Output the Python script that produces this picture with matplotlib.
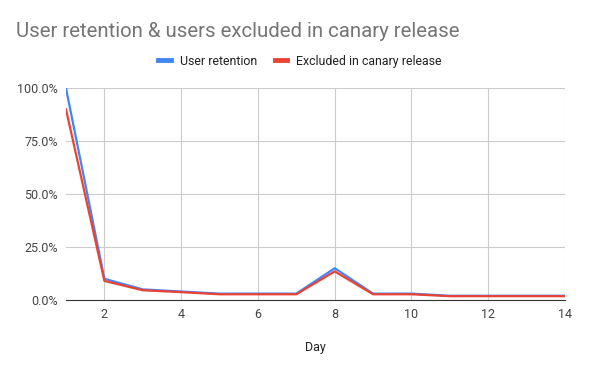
import matplotlib.pyplot as plt
from matplotlib.lines import Line2D
from matplotlib.ticker import PercentFormatter

plt.rcParams['font.family'] = ['Roboto', 'DejaVu Sans']

days = list(range(1, 15))
user_retention = [100, 10, 5, 4, 3, 3, 3, 15, 3, 3, 2, 2, 2, 2]
excluded_canary = [90, 9, 4.6, 3.7, 2.7, 2.7, 2.7, 13.5, 2.7, 2.7, 1.8, 1.8, 1.8, 1.8]
series_names = ['User retention', 'Excluded in canary release']
colors = ['#4285F4', '#EA4335']

fig = plt.figure(figsize=(6, 3.71), dpi=100)
ax = fig.add_axes([0.11, 0.1914, 0.8317, 0.5706])

ax.plot(days, user_retention, color=colors[0], lw=1.6)
ax.plot(days, excluded_canary, color=colors[1], lw=1.6)

ax.set_xlim(1, 14)
ax.set_ylim(0, 100)
ax.set_xticks(range(2, 15, 2))
ax.set_yticks([0, 25, 50, 75, 100])
ax.yaxis.set_major_formatter(PercentFormatter(decimals=1))
ax.grid(True, color='#cccccc', lw=0.8)
ax.set_axisbelow(True)
for s in ['top', 'right', 'left']:
    ax.spines[s].set_visible(False)
ax.spines['bottom'].set_color('#333333')
ax.tick_params(length=0, labelsize=9, colors='#444444', pad=6)
ax.set_xlabel('Day', fontsize=9, color='#222222', labelpad=14)

fig.text(0.027, 0.915, 'User retention & users excluded in canary release',
         fontsize=14.7, color='#757575', va='center')

# thick short legend keys like sheets
handles = [Line2D([], [], color=c, lw=3.5) for c in colors]
fig.legend(handles, series_names, loc='center', bbox_to_anchor=(0.5, 0.835), ncol=2,
           frameon=False, fontsize=8.9, handlelength=1.0, handletextpad=0.75,
           columnspacing=1.4, labelcolor='#222222')

fig.savefig('out.png', dpi=100)
